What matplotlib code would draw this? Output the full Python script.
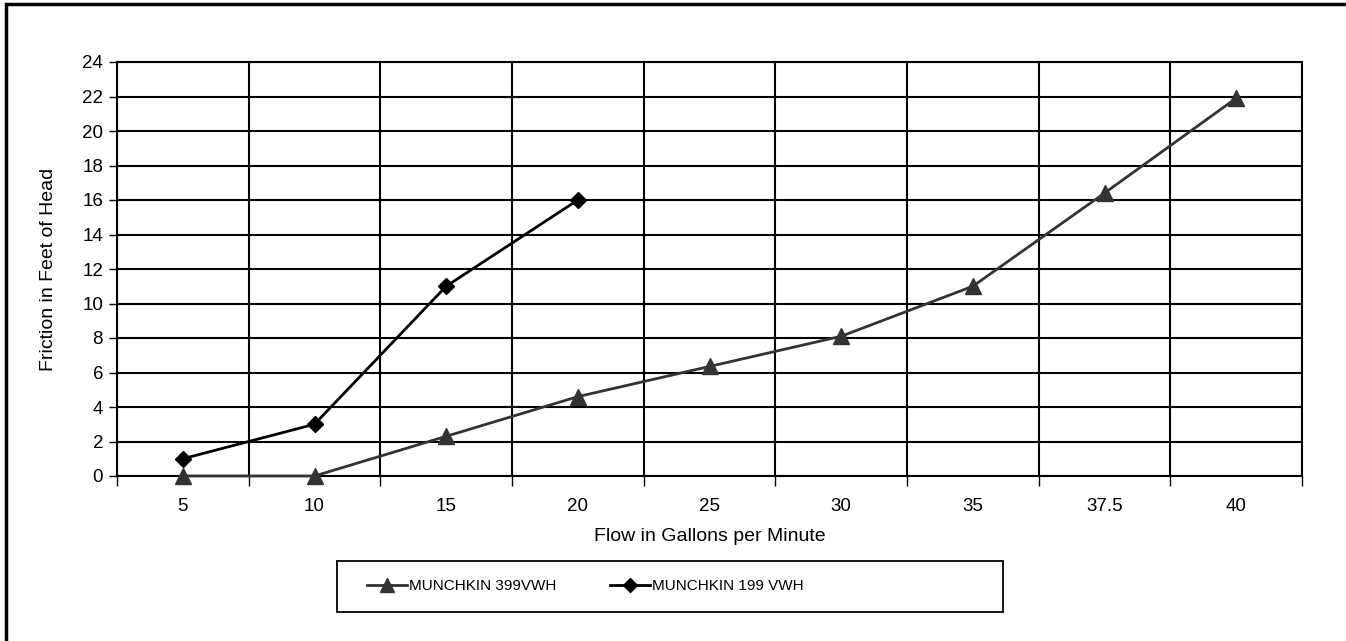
import matplotlib.pyplot as plt
import matplotlib.patches as patches
from matplotlib.lines import Line2D

plt.rcParams['font.family'] = ['Liberation Sans', 'DejaVu Sans']

# dati
portate = ['5', '10', '15', '20', '25', '30', '35', '37.5', '40']
attrito_399 = [0, 0, 2.3, 4.6, 6.35, 8.1, 11, 16.4, 21.9]
attrito_199 = [1, 3, 11, 16]
nome_399 = 'MUNCHKIN 399VWH'
nome_199 = 'MUNCHKIN 199 VWH'
valori_y = list(range(0, 25, 2))

W, H = 1346, 641
fig = plt.figure(figsize=(W / 100, H / 100), dpi=100)
ax = fig.add_axes([117 / W, 1 - 476 / H, (1302 - 117) / W, (476 - 62) / H])

x = list(range(len(portate)))
ax.plot(x, attrito_399, color='#333333', lw=2, marker='^', ms=11,
        markeredgecolor='#333333', zorder=3, clip_on=False)
ax.plot(x[:len(attrito_199)], attrito_199, color='black', lw=2, marker='D',
        ms=8, zorder=4, clip_on=False)

ax.set_xlim(-0.5, len(portate) - 0.5)
ax.set_ylim(0, 24)
ax.set_xticks(x)
ax.set_xticklabels(portate, fontsize=13.5)
ax.set_xticks([i - 0.5 for i in range(len(portate) + 1)], minor=True)
ax.tick_params(axis='x', which='major', length=0, pad=16)
ax.tick_params(axis='x', which='minor', length=7, width=1, direction='out')
ax.set_yticks(valori_y)
ax.tick_params(axis='y', length=6, width=1, labelsize=13.5, pad=4)
ax.grid(axis='x', which='minor', color='black', lw=1.5)
ax.grid(axis='y', which='major', color='black', lw=1.5)
ax.set_axisbelow(True)
for s in ax.spines.values():
    s.set_linewidth(1.5)
    s.set_color('black')

ax.set_xlabel('Flow in Gallons per Minute', fontsize=14, labelpad=9)
ax.set_ylabel('Friction in Feet of Head', fontsize=14, labelpad=18)

# bordo esterno
fig.patches.append(patches.Rectangle((6 / W, -0.5), 2, 0.5 + 1 - 4 / H, fill=False,
                                     lw=2.5, edgecolor='black', transform=fig.transFigure))
# riquadro legenda
fig.patches.append(patches.Rectangle((337 / W, 1 - 612 / H), 666 / W, 51 / H, fill=False,
                                     lw=1.3, edgecolor='black', transform=fig.transFigure))
maniglie = [
    Line2D([], [], color='#333333', lw=2, marker='^', ms=10),
    Line2D([], [], color='black', lw=2, marker='D', ms=7.5),
]
fig.legend(maniglie, [nome_399, nome_199], loc='center left',
           bbox_to_anchor=(367 / W, 1 - 586.5 / H), frameon=False, ncol=2,
           fontsize=11, handlelength=2.6, handletextpad=0.15, columnspacing=3.5,
           borderpad=0, borderaxespad=0)

fig.savefig('out.png', dpi=100)
